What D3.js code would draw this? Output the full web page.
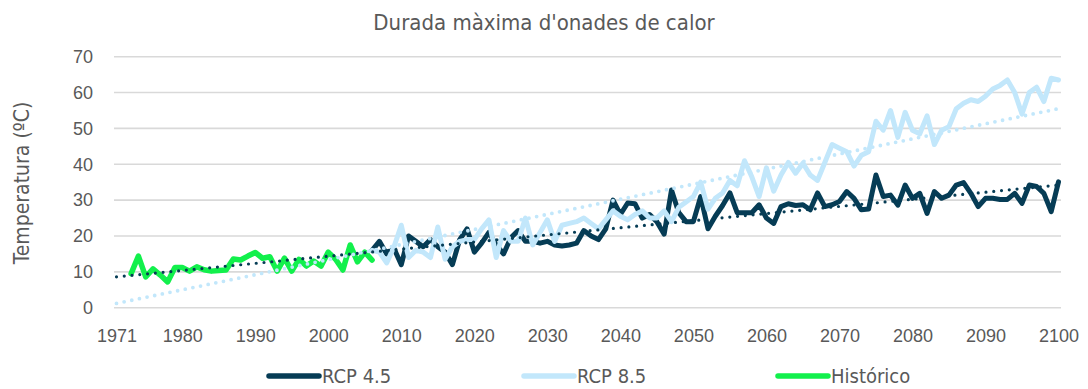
<!DOCTYPE html>
<html>
<head>
<meta charset="utf-8">
<script src="https://cdn.jsdelivr.net/npm/d3@7"></script>
<style>
  html, body { margin: 0; padding: 0; background: #fff; }
  svg { display: block; font-family: "Liberation Sans Narrow", "DejaVu Sans Condensed", "Liberation Sans", sans-serif; }
</style>
</head>
<body>
<svg id="chart" width="1088" height="389"></svg>
<script>
// Maximum heat-wave duration: observed record and two emission scenarios
const histYears = d3.range(1973, 2007);
const histValues = [9.5, 14.4, 8.6, 10.8, 9.1, 7.2, 11.2, 11.2, 10.2, 11.4,
  10.6, 10.2, 10.4, 10.5, 13.6, 13.3, 14.4, 15.4, 13.8, 14.2,
  10.2, 13.8, 10.2, 13.5, 11.6, 13.0, 11.6, 15.5, 13.5, 10.5,
  17.5, 12.8, 15.5, 13.3];

const scenYears = d3.range(2006, 2101);
const rcp45Values = [16, 18.5, 15, 16.5, 12, 20, 18.5, 17, 19, 17,
  15.5, 12, 19, 22, 15.5, 18, 21, 17.5, 15, 19.5,
  21.5, 18.5, 18.5, 18, 18.5, 17.5, 17.2, 17.5, 18, 21.5,
  20, 19, 22, 30, 26, 29.2, 29, 25, 26, 24,
  20.5, 32.8, 26.5, 24, 24, 31, 22, 25.5, 28.5, 32,
  26.5, 26.5, 26.5, 28.7, 25, 23.5, 28.2, 29, 28.5, 28.7,
  27.3, 32, 28.2, 28.7, 29.6, 32.4, 30.5, 27.3, 27.5, 37,
  31, 31.4, 28.6, 34.2, 30.5, 31.9, 26.3, 32.4, 30.5, 31.4,
  34.2, 34.9, 31.9, 28.2, 30.5, 30.5, 30.2, 30.2, 31.9, 29.1,
  34.2, 33.8, 31.9, 26.8, 35.1];
const rcp85Values = [16, 15.5, 12.5, 17, 23, 14, 16, 15.5, 14, 22.5,
  13.5, 17, 18.5, 19, 19, 22, 24.5, 14, 21.5, 18.5,
  18.5, 25, 17.5, 21, 24.5, 18.5, 23, 23.5, 24, 25,
  23.5, 22, 24.5, 27, 25.5, 24.5, 26, 27, 25, 25,
  27, 24, 28, 29.5, 31, 35, 27.5, 30.5, 32, 35.5,
  34, 41, 36.5, 31, 39, 32.5, 37, 40.5, 37.5, 40.3,
  37, 35.5, 40.5, 45.5, 44.5, 43.5, 39.5, 42.5, 43.5, 52,
  49.5, 55, 47.5, 54.5, 49.5, 48.5, 53.5, 45.5, 49.5, 50.5,
  55.5, 57, 58, 57.5, 59, 61, 62, 63.5, 60, 54,
  60, 61.5, 57.5, 64, 63.5];

// Linear trend lines (end points)
const trendYears = [1971, 2100];
const rcp45Trend = [8.6, 34.2];
const rcp85Trend = [1.2, 55.5];

const xTicks = [1971, 1980, 1990, 2000, 2010, 2020, 2030, 2040, 2050, 2060, 2070, 2080, 2090, 2100];
const yTicks = [0, 10, 20, 30, 40, 50, 60, 70];
const seriesNames = ["RCP 4.5", "RCP 8.5", "Histórico"];

const titleText = "Durada màxima d'onades de calor";
const yTitleText = "Temperatura (ºC)";

const colors = { rcp45: "#063c55", rcp85: "#c2e7fb", hist: "#12f04c" };
const textColor = "#595959";

const svg = d3.select("#chart");

const x = d3.scaleLinear().domain([1971, 2100]).range([116.5, 1058.5]);
const y = d3.scaleLinear().domain([0, 70]).range([307.7, 56.7]);

// Horizontal gridlines
svg.append("g")
  .selectAll("line")
  .data(yTicks)
  .join("line")
  .attr("x1", 114).attr("x2", 1061)
  .attr("y1", d => y(d)).attr("y2", d => y(d))
  .attr("stroke", "#d9d9d9").attr("stroke-width", 1.6);

// Y axis labels
const yAxis = svg.append("g")
  .attr("transform", "translate(114,0)")
  .call(d3.axisLeft(y).tickValues(yTicks).tickSize(0).tickPadding(21));
yAxis.select(".domain").remove();
yAxis.selectAll("text")
  .attr("fill", textColor)
  .style("font-size", "18px")
  .style("font-family", "inherit");

// X axis labels
const xAxis = svg.append("g")
  .attr("transform", "translate(0,329)")
  .call(d3.axisBottom(x).tickValues(xTicks).tickFormat(d3.format("d")).tickSize(0).tickPadding(0));
xAxis.select(".domain").remove();
xAxis.selectAll("text")
  .attr("fill", textColor)
  .style("font-size", "18px")
  .style("font-family", "inherit");

// Series lines
const line = d3.line().x(d => x(d[0])).y(d => y(d[1]));

function drawSeries(years, values, color, width) {
  svg.append("path")
    .datum(d3.zip(years, values))
    .attr("fill", "none")
    .attr("stroke", color)
    .attr("stroke-width", width)
    .attr("stroke-linejoin", "round")
    .attr("stroke-linecap", "round")
    .attr("d", line);
}

drawSeries(scenYears, rcp45Values, colors.rcp45, 5);
drawSeries(scenYears, rcp85Values, colors.rcp85, 5);
drawSeries(histYears, histValues, colors.hist, 5.5);

// Dotted trend lines
function drawTrend(values, color, width) {
  svg.append("path")
    .datum(d3.zip(trendYears, values))
    .attr("fill", "none")
    .attr("stroke", color)
    .attr("stroke-width", width)
    .attr("stroke-linecap", "round")
    .attr("stroke-dasharray", "0 7.8")
    .attr("d", line);
}
drawTrend(rcp85Trend, colors.rcp85, 3.8);
drawTrend(rcp45Trend, colors.rcp45, 3.2);

// Title
svg.append("text")
  .attr("x", 544).attr("y", 30)
  .attr("text-anchor", "middle")
  .attr("fill", textColor)
  .style("font-size", "22px")
  .text(titleText);

// Y axis title
svg.append("text")
  .attr("transform", "translate(29,183) rotate(-90)")
  .attr("text-anchor", "middle")
  .attr("fill", textColor)
  .style("font-size", "21px")
  .text(yTitleText);

// Legend
const legendItems = [
  { name: seriesNames[0], color: colors.rcp45, x: 267 },
  { name: seriesNames[1], color: colors.rcp85, x: 522 },
  { name: seriesNames[2], color: colors.hist, x: 776 }
];
const lg = svg.append("g").selectAll("g").data(legendItems).join("g")
  .attr("transform", d => `translate(${d.x},376)`);
lg.append("line")
  .attr("x1", 2).attr("x2", 52).attr("y1", 0).attr("y2", 0)
  .attr("stroke", d => d.color).attr("stroke-width", 5.5)
  .attr("stroke-linecap", "round");
lg.append("text")
  .attr("x", 55).attr("y", 0).attr("dy", "0.35em")
  .attr("fill", textColor)
  .style("font-size", "20px")
  .text(d => d.name);
</script>
</body>
</html>
